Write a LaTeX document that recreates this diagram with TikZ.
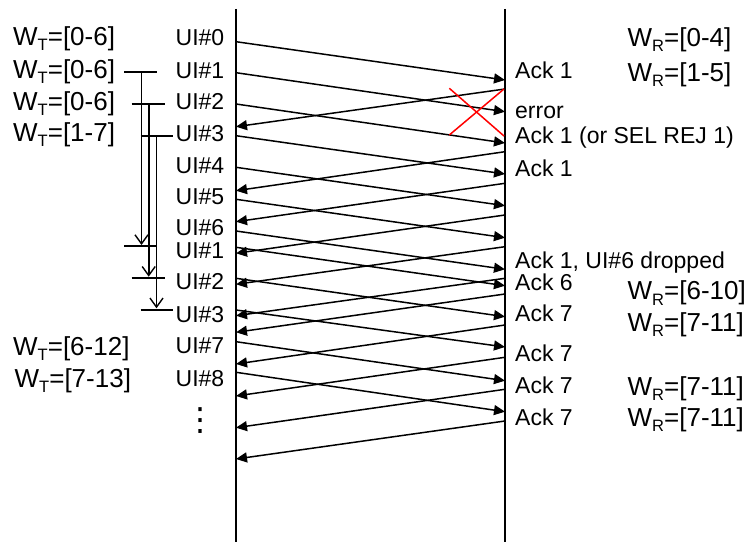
\documentclass[tikz,border=0pt]{standalone}
\usepackage{fontspec}
\setmainfont{Liberation Sans}
\newfontfamily\dejavu{DejaVu Sans}
\usetikzlibrary{arrows.meta}
\tikzset{
  lbl/.style={inner sep=0pt, anchor=base west, font=\fontsize{23bp}{26bp}\selectfont},
  wlbl/.style={inner sep=0pt, anchor=base west, font=\fontsize{26bp}{30bp}\selectfont},
  life/.style={line width=1.8bp},
  msg/.style={line width=1.5bp, -{Triangle[length=11bp,width=10bp]}},
  tick/.style={line width=2bp},
  timer/.style={line width=1.6bp, -{Straight Barb[length=9bp,width=13bp,line width=1.4bp]}},
  cross/.style={red, line width=1.5bp}
}
\newcommand{\WT}{W\raisebox{-5bp}{\fontsize{16.5bp}{18bp}\selectfont T}}
\newcommand{\WR}{W\raisebox{-5bp}{\fontsize{16.5bp}{18bp}\selectfont R}}
\begin{document}
\begin{tikzpicture}[x=1bp,y=-1bp]
\useasboundingbox (0,0) rectangle (751,542);
% lifelines
\coordinate (Ltop) at (236,9);
\coordinate (Lbot) at (236,542);
\coordinate (Rtop) at (505,9);
\coordinate (Rbot) at (505,542);
\draw[life] (Ltop) -- (Lbot);
\draw[life] (Rtop) -- (Rbot);
% forward messages
\foreach \i/\a/\b in {0/41.7/80, 1/72.7/111.7, 2/104/143, 3/135.7/174, 4/167.3/205.7,
  5/199.3/237.7, 6/231/269.3, 7/247.3/285.7, 8/278.3/316.7, 9/310/347,
  10/341.7/380.7, 11/372.3/411.7}{
  \coordinate (fs\i) at (236,\a);
  \coordinate (fe\i) at (505,\b);
  \draw[msg] (fs\i) -- (fe\i);
}
% backward acks
\foreach \i/\a/\b in {0/89/126.7, 1/151.7/190.7, 2/183.3/221.7, 3/215/253.3, 4/246.7/284.3,
  5/278.3/315.7, 6/294/332.3, 7/325/364, 8/357.3/396, 9/389.3/427.7, 10/421/459}{
  \coordinate (bs\i) at (505,\a);
  \coordinate (be\i) at (236,\b);
  \draw[msg] (bs\i) -- (be\i);
}
% red cross
\coordinate (x1) at (449.3,88.3);
\coordinate (x2) at (504,136);
\coordinate (x3) at (449.3,135);
\coordinate (x4) at (504,89);
\draw[cross] (x1) -- (x2);
\draw[cross] (x3) -- (x4);
% timers
\foreach \i/\xa/\xb/\xm/\ya/\yb/\yc in {1/124/157/141.5/72.5/245/246.5,
  2/131.7/165/148.7/104/276.7/278,
  3/140.7/173.3/156.5/136/308.3/310}{
  \coordinate (ta\i) at (\xa,\ya);
  \coordinate (tb\i) at (\xb,\ya);
  \coordinate (tc\i) at (\xa,\yc);
  \coordinate (td\i) at (\xb,\yc);
  \coordinate (tm\i) at (\xm,\ya);
  \coordinate (tn\i) at (\xm,\yb);
  \draw[tick] (ta\i) -- (tb\i);
  \draw[tick] (tc\i) -- (td\i);
  \draw[timer] (tm\i) -- (tn\i);
}
% UI labels
\foreach \i/\t/\y in {0/UI\#0/45.7, 1/UI\#1/78.3, 2/UI\#2/110, 3/UI\#3/141.7, 4/UI\#4/173.3,
  5/UI\#5/205, 6/UI\#6/236, 7/UI\#1/258.3, 8/UI\#2/289.3, 9/UI\#3/322.7,
  10/UI\#7/353.3, 11/UI\#8/386}{
  \node[lbl] (ui\i) at (175.5,\y) {\t};
}
\node[inner sep=0pt, font=\dejavu\fontsize{32bp}{34bp}\selectfont] (dots) at (200,421) {⋮};
% W_T labels
\node[wlbl] (wt0) at (13,45.7) {\WT=[0-6]};
\node[wlbl] (wt1) at (13,79) {\WT=[0-6]};
\node[wlbl] (wt2) at (13,111) {\WT=[0-6]};
\node[wlbl] (wt3) at (13,141.7) {\WT=[1-7]};
\node[wlbl] (wt4) at (13,355) {\WT=[6-12]};
\node[wlbl] (wt5) at (14.5,387) {\WT=[7-13]};
% Ack labels
\node[lbl] (a0) at (515,78.3) {Ack 1};
\node[lbl] (a1) at (515,118.3) {error};
\node[lbl] (a2) at (515,143.3) {Ack 1 (or SEL REJ 1)};
\node[lbl] (a3) at (515,176.7) {Ack 1};
\node[lbl] (a4) at (515,269) {Ack 1, UI\#6 dropped};
\node[lbl] (a5) at (515,290.7) {Ack 6};
\node[lbl] (a6) at (515,321.7) {Ack 7};
\node[lbl] (a7) at (515,361.7) {Ack 7};
\node[lbl] (a8) at (515,393.3) {Ack 7};
\node[lbl] (a9) at (515,425) {Ack 7};
% W_R labels
\node[wlbl] (wr0) at (627.5,46.7) {\WR=[0-4]};
\node[wlbl] (wr1) at (627.5,81.7) {\WR=[1-5]};
\node[wlbl] (wr2) at (627.5,300) {\WR=[6-10]};
\node[wlbl] (wr3) at (627.5,331.7) {\WR=[7-11]};
\node[wlbl] (wr4) at (627.5,395) {\WR=[7-11]};
\node[wlbl] (wr5) at (627.5,426.7) {\WR=[7-11]};
\end{tikzpicture}
\end{document}
